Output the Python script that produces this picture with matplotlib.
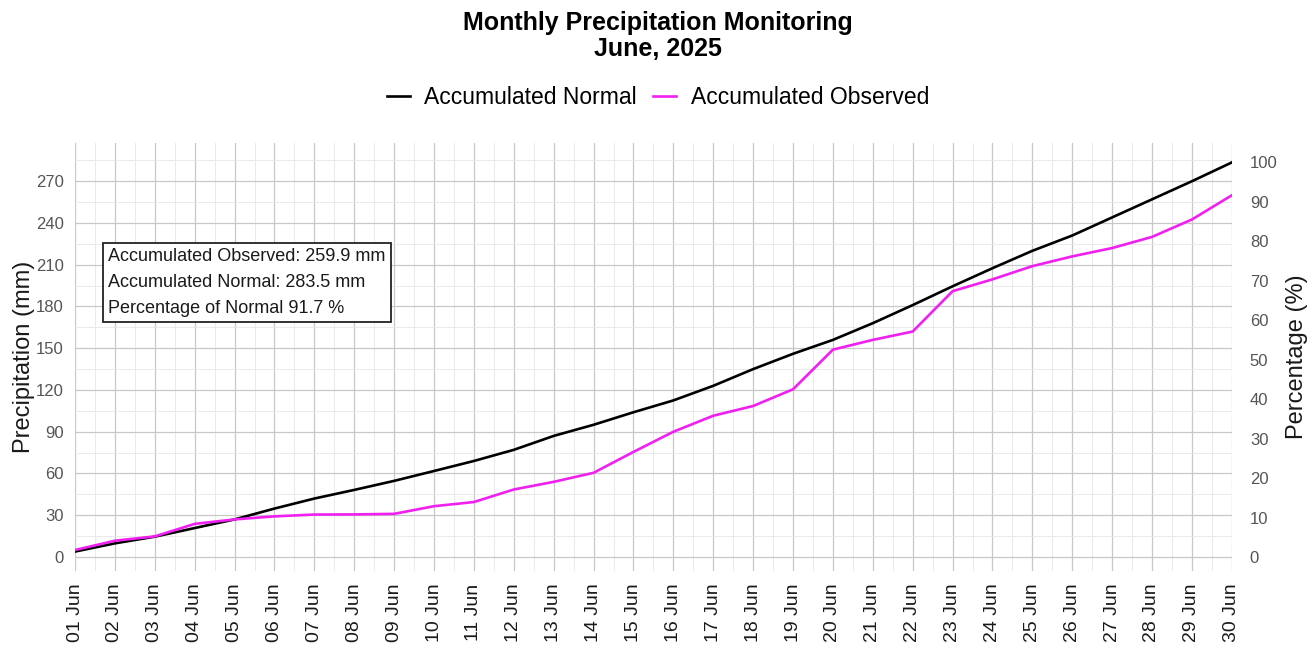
import matplotlib
matplotlib.use("Agg")
import matplotlib.pyplot as plt
import numpy as np

plt.rcParams['font.family'] = ['Liberation Sans', 'DejaVu Sans']

# Daily accumulated precipitation (mm), June 2025
days = ["01 Jun", "02 Jun", "03 Jun", "04 Jun", "05 Jun", "06 Jun", "07 Jun", "08 Jun",
        "09 Jun", "10 Jun", "11 Jun", "12 Jun", "13 Jun", "14 Jun", "15 Jun", "16 Jun",
        "17 Jun", "18 Jun", "19 Jun", "20 Jun", "21 Jun", "22 Jun", "23 Jun", "24 Jun",
        "25 Jun", "26 Jun", "27 Jun", "28 Jun", "29 Jun", "30 Jun"]
acc_normal = [3.9, 9.8, 14.6, 20.8, 27.0, 34.8, 42.0, 48.2, 54.7, 61.8,
              69.0, 77.0, 87.0, 95.0, 104.0, 112.5, 123.0, 135.0, 146.0, 156.0,
              168.0, 181.0, 194.5, 207.5, 220.0, 231.0, 244.0, 257.0, 270.0, 283.5]
acc_observed = [5.0, 11.7, 14.8, 23.8, 27.0, 29.2, 30.5, 30.6, 31.0, 36.5,
                39.5, 48.5, 54.0, 60.5, 75.5, 90.0, 101.5, 108.5, 120.5, 149.0,
                156.0, 162.0, 191.0, 199.5, 209.0, 216.0, 222.0, 230.0, 242.5, 259.9]

x = np.arange(1, len(days) + 1)
total_normal = acc_normal[-1]
total_obs = acc_observed[-1]
pct = total_obs / total_normal * 100

fig = plt.figure(figsize=(13.16, 6.5), dpi=100)
ax = fig.add_axes([0.057, 0.1215, 0.879, 0.6585])

ax.plot(x, acc_normal, color='black', lw=1.9, label='Accumulated Normal', zorder=3)
ax.plot(x, acc_observed, color='#f020f0', lw=1.9, label='Accumulated Observed', zorder=3)

ax.set_xlim(1, len(days))
lo = min(min(acc_normal), min(acc_observed))
hi = max(max(acc_normal), max(acc_observed))
pad = (hi - lo) * 0.05
ax.set_ylim(lo - pad, hi + pad)

ax.set_xticks(x)
ax.set_xticklabels(days, rotation=90, fontsize=14, color='#1a1a1a')
ax.set_xticks(x[:-1] + 0.5, minor=True)
ax.set_yticks(np.arange(0, 271, 30))
ax.set_yticks(np.arange(15, 300, 30), minor=True)
ax.tick_params(axis='y', labelsize=12, labelcolor='#555555', length=0, pad=8)
ax.tick_params(axis='x', length=0, pad=9)
ax.tick_params(which='minor', length=0)

ax.grid(which='major', color='#c8c8c8', lw=0.9)
ax.grid(which='minor', color='#e6e6e6', lw=0.6)
ax.set_axisbelow(True)
for s in ax.spines.values():
    s.set_visible(False)

ax.set_ylabel('Precipitation (mm)', fontsize=17, color='#1a1a1a', labelpad=1)

# right axis in percent of the monthly normal
sec = ax.secondary_yaxis('right', functions=(lambda v: v / total_normal * 100,
                                             lambda p: p * total_normal / 100))
sec.set_yticks(np.arange(0, 101, 10))
sec.tick_params(labelsize=12, labelcolor='#555555', length=0, pad=13)
sec.spines['right'].set_visible(False)
sec.set_ylabel('Percentage (%)', fontsize=17, color='#1a1a1a', labelpad=6)

info = (f"Accumulated Observed: {total_obs:.1f} mm\n"
        f"Accumulated Normal: {total_normal:.1f} mm\n"
        f"Percentage of Normal {pct:.1f} %")
ax.text(0.0285, 0.674, info, transform=ax.transAxes, fontsize=13, ha='left', va='center',
        linespacing=1.68, color='#1a1a1a', zorder=5,
        bbox=dict(boxstyle='square,pad=0.3', fc='white', ec='#222222', lw=1.3))

fig.text(0.5, 1 - 36 / 650, 'Monthly Precipitation Monitoring\nJune, 2025',
         ha='center', va='center', fontsize=18, fontweight='bold', linespacing=1.1)

fig.legend(loc='center', bbox_to_anchor=(0.5, 1 - 98 / 650), ncol=2, frameon=False,
           fontsize=16.5, handlelength=1.0, handletextpad=0.65, columnspacing=0.7)

fig.savefig('out.png', dpi=100)
